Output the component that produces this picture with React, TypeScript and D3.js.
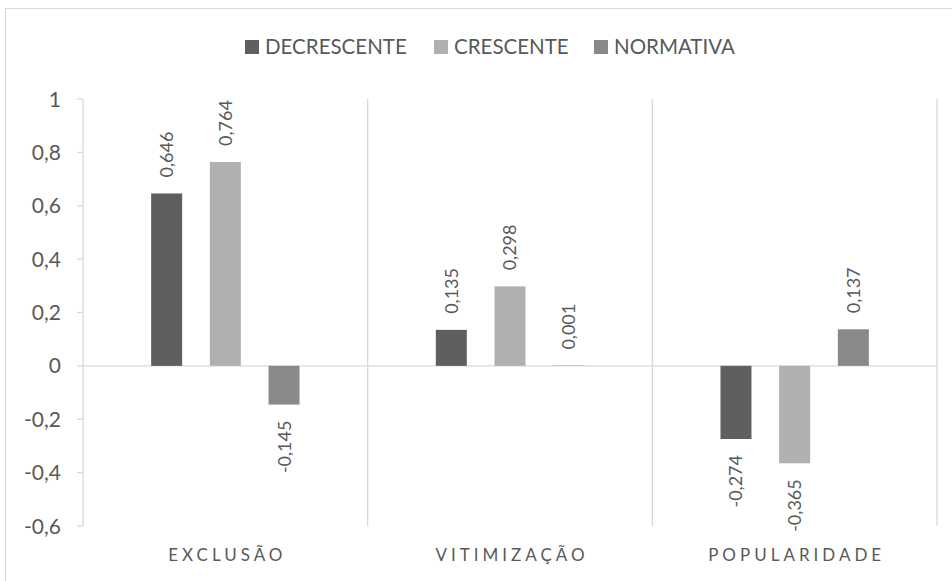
import React from 'react';
import * as d3 from 'd3';

// categorias e séries
const categories = ['EXCLUSÃO', 'VITIMIZAÇÃO', 'POPULARIDADE'];
const seriesNames = ['DECRESCENTE', 'CRESCENTE', 'NORMATIVA'];
const decrescente = [0.646, 0.135, -0.274];
const crescente = [0.764, 0.298, -0.365];
const normativa = [-0.145, 0.001, 0.137];
const yTicks = [1, 0.8, 0.6, 0.4, 0.2, 0, -0.2, -0.4, -0.6];

const colors = ['#5f5f5f', '#b0b0b0', '#898989'];
const textColor = '#595959';
const gridColor = '#d9d9d9';
const font = 'Lato, "Open Sans", sans-serif';

const W = 952, H = 581;
const m = { l: 83, r: 937, t: 99, b: 526 };

const fmt = (v: number) => String(v).replace('.', ',');

export default function App() {
  const series = [decrescente, crescente, normativa];
  const x0 = d3.scaleBand<string>().domain(categories).range([m.l, m.r]).paddingInner(0).paddingOuter(0);
  const x1 = d3.scaleBand<string>().domain(seriesNames).range([0, x0.bandwidth()]).paddingInner(0.472).paddingOuter(1.161);
  const y = d3.scaleLinear().domain([-0.6, 1]).range([m.b, m.t]);
  const bw = x1.bandwidth();

  const legendX = [245, 434, 594];

  return (
    <svg width={W} height={H} style={{ position: 'absolute', left: 0, top: 0, background: '#fff' }} fontFamily={font}>
      <rect x={5.5} y={8.5} width={W + 10} height={H + 10} fill="#fff" stroke={gridColor} />

      {/* legenda */}
      {seriesNames.map((s, i) => (
        <g key={s}>
          <rect x={legendX[i]} y={40} width={14} height={14} fill={colors[i]} />
          <text x={legendX[i] + 20} y={54} fontSize={20.5} fill={textColor}>{s}</text>
        </g>
      ))}

      {/* divisórias verticais */}
      {[...categories.map(c => x0(c) as number), m.r].map((xv, i) => (
        <line key={i} x1={xv} x2={xv} y1={m.t} y2={m.b} stroke={gridColor} strokeWidth={1.3} />
      ))}

      {/* eixo y */}
      {yTicks.map(t => (
        <g key={t}>
          <line x1={m.l - 6} x2={m.l} y1={y(t)} y2={y(t)} stroke={gridColor} strokeWidth={1.3} />
          <text x={61} y={y(t)} dy="0.36em" textAnchor="end" fontSize={21} fill={textColor}>{fmt(t)}</text>
        </g>
      ))}
      <line x1={m.l} x2={m.r} y1={y(0)} y2={y(0)} stroke={gridColor} strokeWidth={1.3} />

      {/* barras */}
      {categories.map((c, ci) => (
        <g key={c}>
          {seriesNames.map((s, si) => {
            const v = series[si][ci];
            const bx = (x0(c) as number) + (x1(s) as number);
            const cx = bx + bw / 2;
            const top = Math.min(y(v), y(0));
            const h = Math.abs(y(v) - y(0));
            const ly = v >= 0 ? y(v) - 16 : y(v) + 16;
            return (
              <g key={s}>
                <rect x={bx} y={top} width={bw} height={h} fill={colors[si]} />
                <text
                  transform={`translate(${cx},${ly}) rotate(-90)`}
                  dy="0.36em"
                  textAnchor={v >= 0 ? 'start' : 'end'}
                  fontSize={18}
                  fill={textColor}
                >{fmt(v)}</text>
              </g>
            );
          })}
          <text
            x={(x0(c) as number) + x0.bandwidth() / 2 + 2}
            y={561}
            textAnchor="middle"
            fontSize={17}
            letterSpacing={4}
            fill={textColor}
          >{c}</text>
        </g>
      ))}
    </svg>
  );
}
